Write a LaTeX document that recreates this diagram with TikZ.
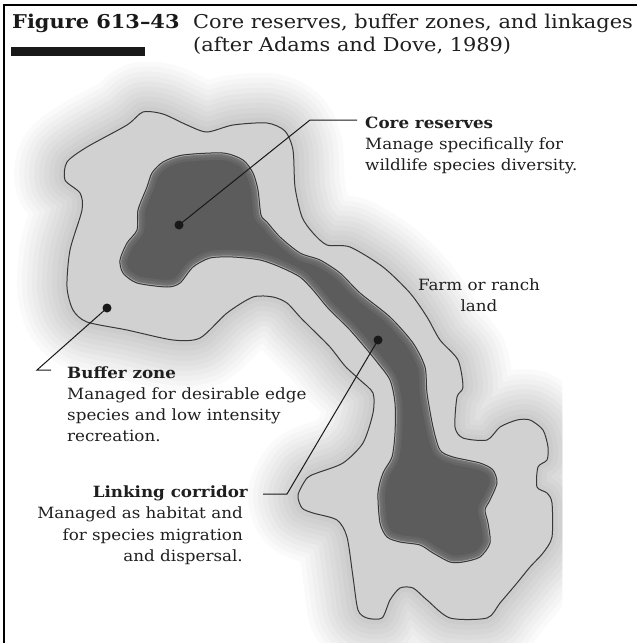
\documentclass[tikz,border=0pt]{standalone}
\usepackage{fontspec}
\setmainfont{DejaVu Serif}[FakeStretch=1.08]
\newfontfamily\titlefont{DejaVu Serif}[FakeStretch=1.1]
\begin{document}
\begin{tikzpicture}[x=1pt,y=-1pt,
  txt/.style={inner sep=0pt, text=black!88, font=\fontsize{15.5}{18}\selectfont},
  hd/.style={inner sep=0pt, text=black!88, font=\fontsize{15.5}{18}\selectfont\bfseries},
  ttl/.style={inner sep=0pt, text=black!88, font=\titlefont\fontsize{19}{22}\selectfont},
  ttlb/.style={inner sep=0pt, text=black!90, font=\titlefont\fontsize{19}{22}\selectfont\bfseries},
  leader/.style={line width=1pt, black!90},
  dot/.style={circle, fill=black!90, inner sep=0pt, minimum size=9pt},
  outline/.style={draw=black!78, line width=1pt, line join=round},
]
\useasboundingbox (0,0) rectangle (639,643);
\fill[white] (0,0) rectangle (639,643);

\path[save path=\outerP] plot[smooth cycle, tension=0.45] coordinates {
(143,112) (163,114) (187,125) (207,132) (233,125) (267,123) (285,131) (293,150) (295,187) (302,217) (313,233) (327,245) (350,247) (383,267) (410,293) (427,317) (440,340) (458,360) (463,387) (457,397) (455,427) (463,438) (487,440) (500,427) (517,420) (530,420) (543,430) (548,447) (547,460) (538,467) (537,487) (547,493) (552,503) (552,537) (543,553) (530,567) (517,583) (500,603) (487,618) (450,618) (427,600) (413,588) (400,588) (390,600) (382,618) (367,618) (358,610) (353,577) (347,537) (337,520) (313,513) (302,508) (298,495) (307,478) (317,473) (343,463) (363,443) (373,413) (373,393) (360,380) (345,366) (330,347) (310,327) (300,317) (287,303) (273,297) (253,297) (227,313) (200,338) (173,340) (127,330) (87,322) (73,310) (67,287) (70,250) (82,210) (80,193) (65,180) (67,162) (87,147) (127,125)};

\path[save path=\coreP] plot[smooth cycle, tension=0.45] coordinates {
(152,173) (163,162) (183,155) (223,153) (243,160) (253,173) (258,190) (261,215) (267,222) (280,237) (300,253) (320,260) (340,273) (360,293) (390,317) (413,343) (425,367) (427,393) (433,427) (440,450) (453,457) (480,463) (493,470) (497,483) (490,500) (485,510) (488,523) (490,543) (480,557) (463,562) (450,562) (433,553) (420,545) (400,542) (387,537) (380,523) (378,493) (383,473) (392,457) (395,433) (395,403) (390,380) (377,362) (363,345) (350,330) (340,320) (327,307) (313,290) (300,277) (280,267) (260,260) (233,257) (210,258) (193,267) (180,283) (167,287) (137,283) (123,273) (120,260) (127,243) (137,230) (138,210) (147,187)};

% halo
\begin{scope}
\clip (6,62) rectangle (562,643);
\foreach \w/\c in {100/2,90/4,80/6,70/8,60/10,50/12,40/14,30/16,20/18,10/20}{
  \draw[use path=\outerP, line width=\w pt, black!\c, line join=round];
}
\end{scope}
\fill[black!18, use path=\outerP];

% core
\fill[black!64, use path=\coreP];
\begin{scope}
\path[clip, use path=\coreP];
\foreach \w in {14,9,5}{
  \draw[use path=\coreP, line width=\w pt, white, opacity=0.06, line join=round];
}
\draw[use path=\coreP, line width=2.4pt, black!30, line join=round];
\end{scope}
\draw[use path=\coreP, outline];
\draw[use path=\outerP, outline];

% frame
\draw[line width=2pt, black] (4,643) -- (4,5) -- (637,5);

% title
\node[ttlb, anchor=base west] (fig) at (12,28) {Figure 613–43};
\fill[black!90] (11,47) rectangle (145,56);
\node[ttl, anchor=base west] (cap1) at (193,28) {Core reserves, buffer zones, and linkages};
\node[ttl, anchor=base west] (cap2) at (193,51) {(after Adams and Dove, 1989)};

% core reserves
\node[hd, anchor=base west] (coreh) at (365,128) {Core reserves};
\node[txt, anchor=base west] (core1) at (365,149) {Manage specifically for};
\node[txt, anchor=base west] (core2) at (365,170) {wildlife species diversity.};
\node[dot] (coredot) at (179,225) {};
\coordinate (coreel) at (310,120);
\coordinate (coreend) at (357,120);
\draw[leader] (coredot.center) -- (coreel) -- (coreend);

% farm
\node[txt, anchor=base] (farm1) at (479,290) {Farm or ranch};
\node[txt, anchor=base] (farm2) at (479,311) {land};

% buffer
\node[hd, anchor=base west] (bufh) at (67,378) {Buffer zone};
\node[txt, anchor=base west] (buf1) at (67,399) {Managed for desirable edge};
\node[txt, anchor=base west] (buf2) at (67,420) {species and low intensity};
\node[txt, anchor=base west] (buf3) at (67,441) {recreation.};
\node[dot] (bufdot) at (107,308) {};
\coordinate (bufel) at (37,370);
\coordinate (bufend) at (51,370);
\draw[leader] (bufdot.center) -- (bufel) -- (bufend);

% corridor
\node[hd, anchor=base east] (linh) at (248,497) {Linking corridor};
\node[txt, anchor=base east] (lin1) at (243,518) {Managed as habitat and};
\node[txt, anchor=base east] (lin2) at (243,540) {for species migration};
\node[txt, anchor=base east] (lin3) at (243,561) {and dispersal.};
\node[dot] (lindot) at (378,340) {};
\coordinate (linel) at (287,494);
\coordinate (linend) at (263,494);
\draw[leader] (lindot.center) -- (linel) -- (linend);
\end{tikzpicture}
\end{document}
